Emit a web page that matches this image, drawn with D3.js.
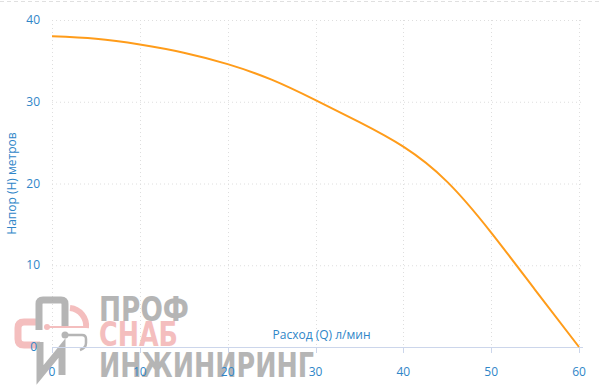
<!DOCTYPE html>
<html>
<head>
<meta charset="utf-8">
<script src="https://cdn.jsdelivr.net/npm/d3@7"></script>
<style>
  body { margin: 0; background: #fff; }
  svg { display: block; font-family: "Open Sans", "DejaVu Sans", sans-serif; }
</style>
</head>
<body>
<script>
// расход, л/мин
let flow = [0, 5, 10, 15, 20, 25, 30, 35, 40, 45, 50, 55, 60];
// напор, м
let head = [38, 37.7, 37.0, 36.0, 34.6, 32.7, 30.2, 27.5, 24.5, 20.2, 14.0, 7.0, 0];
let xTicks = [0, 10, 20, 30, 40, 50, 60];
let yTicks = [0, 10, 20, 30, 40];

let w = 600, h = 389;
let margin = {left: 52, right: 21, top: 20, bottom: 42};
let plotRight = 583;
let labelColor = "#2f86c8";

let svg = d3.select("body").append("svg").attr("width", w).attr("height", h);

// dashed top border
svg.append("line").attr("x1", 0).attr("x2", w).attr("y1", 1.5).attr("y2", 1.5)
   .attr("stroke", "#e0e0e0").attr("stroke-dasharray", "4,3");

let x = d3.scaleLinear().domain([0, 60]).range([margin.left, w - margin.right]);
let y = d3.scaleLinear().domain([0, 40]).range([h - margin.bottom, margin.top]);

let grid = svg.append("g");
grid.selectAll("line.h").data(yTicks.filter(d => d > 0)).enter().append("line")
    .attr("x1", margin.left).attr("x2", plotRight)
    .attr("y1", d => y(d) + 0.5).attr("y2", d => y(d) + 0.5)
    .attr("stroke", "#dedede").attr("stroke-dasharray", "1,3");
grid.selectAll("line.v").data(xTicks).enter().append("line")
    .attr("x1", d => Math.round(x(d)) + 0.5).attr("x2", d => Math.round(x(d)) + 0.5)
    .attr("y1", margin.top).attr("y2", y(0))
    .attr("stroke", "#dedede").attr("stroke-dasharray", "1,3");

// watermark logo
let logo = svg.append("g").attr("opacity", 0.85);
let gray = "#a9a9a9", pink = "#f3b3b3";
logo.append("path")
    .attr("d", "M40,322 L24,322 Q18,322 18,328 L18,339 Q18,345 24,345 L40,345")
    .attr("fill", "none").attr("stroke", pink).attr("stroke-width", 7);
logo.append("path")
    .attr("d", "M39,330 L39,304 Q39,300 43,300 L61,300 Q65,300 65,304 L65,326")
    .attr("fill", "none").attr("stroke", gray).attr("stroke-width", 7);
logo.append("path")
    .attr("d", "M70,308 A18,18 0 0 1 86,328")
    .attr("fill", "none").attr("stroke", pink).attr("stroke-width", 6);
logo.append("line").attr("x1", 47).attr("x2", 88).attr("y1", 327).attr("y2", 327)
    .attr("stroke", pink).attr("stroke-width", 2);
logo.append("circle").attr("cx", 47).attr("cy", 327).attr("r", 3).attr("fill", pink);
logo.append("path")
    .attr("d", "M65,335 L82,335 Q86,335 86,339 L86,343 Q86,348 80,350")
    .attr("fill", "none").attr("stroke", gray).attr("stroke-width", 2.5);
logo.append("circle").attr("cx", 65).attr("cy", 335).attr("r", 3.5).attr("fill", gray);
logo.append("path")
    .attr("d", "M40,342 L40,375 L62,348 L62,375")
    .attr("fill", "none").attr("stroke", gray).attr("stroke-width", 7);

let logoText = [
  {t: "ПРОФ", c: gray, y: 321, len: 90},
  {t: "СНАБ", c: pink, y: 346, len: 79},
  {t: "ИНЖИНИРИНГ", c: gray, y: 377, len: 215}
];
logo.selectAll("text").data(logoText).enter().append("text")
    .attr("x", 99).attr("y", d => d.y)
    .attr("textLength", d => d.len).attr("lengthAdjust", "spacingAndGlyphs")
    .attr("fill", d => d.c)
    .style("font-family", "'DejaVu Sans', sans-serif").style("font-weight", "bold")
    .style("font-size", "34px")
    .text(d => d.t);

// x axis
let xAxis = svg.append("g");
xAxis.append("line").attr("x1", margin.left).attr("x2", plotRight)
     .attr("y1", y(0) + 0.5).attr("y2", y(0) + 0.5).attr("stroke", "#ccd6eb");
xAxis.selectAll("line.tick").data(xTicks).enter().append("line")
     .attr("x1", d => Math.round(x(d)) + 0.5).attr("x2", d => Math.round(x(d)) + 0.5)
     .attr("y1", y(0)).attr("y2", y(0) + 6).attr("stroke", "#ccd6eb");
xAxis.selectAll("text").data(xTicks).enter().append("text")
     .attr("x", d => x(d)).attr("y", y(0) + 29)
     .attr("text-anchor", "middle").attr("fill", labelColor)
     .style("font-size", "12px").text(d => d);

// y axis labels
svg.append("g").selectAll("text").data(yTicks).enter().append("text")
   .attr("x", d => d === 0 ? 37 : 40).attr("y", d => y(d) + 4)
   .attr("text-anchor", "end").attr("fill", labelColor)
   .style("font-size", "12px").text(d => d);

// axis titles
svg.append("text").attr("x", (margin.left + plotRight) / 2 + 4).attr("y", y(0) - 8)
   .attr("text-anchor", "middle").attr("fill", labelColor)
   .style("font-size", "12px").text("Расход (Q) л/мин");
svg.append("text").attr("transform", "translate(16," + ((margin.top + y(0)) / 2) + ") rotate(-90)")
   .attr("text-anchor", "middle").attr("fill", labelColor)
   .style("font-size", "12px").text("Напор (Н) метров");

// curve
let pts = flow.map((q, i) => ({q: q, h: head[i]}));
let line = d3.line().x(d => x(d.q)).y(d => y(d.h)).curve(d3.curveNatural);
svg.append("path").datum(pts).attr("d", line)
   .attr("fill", "none").attr("stroke", "#ff9c1a").attr("stroke-width", 2);
</script>
</body>
</html>
